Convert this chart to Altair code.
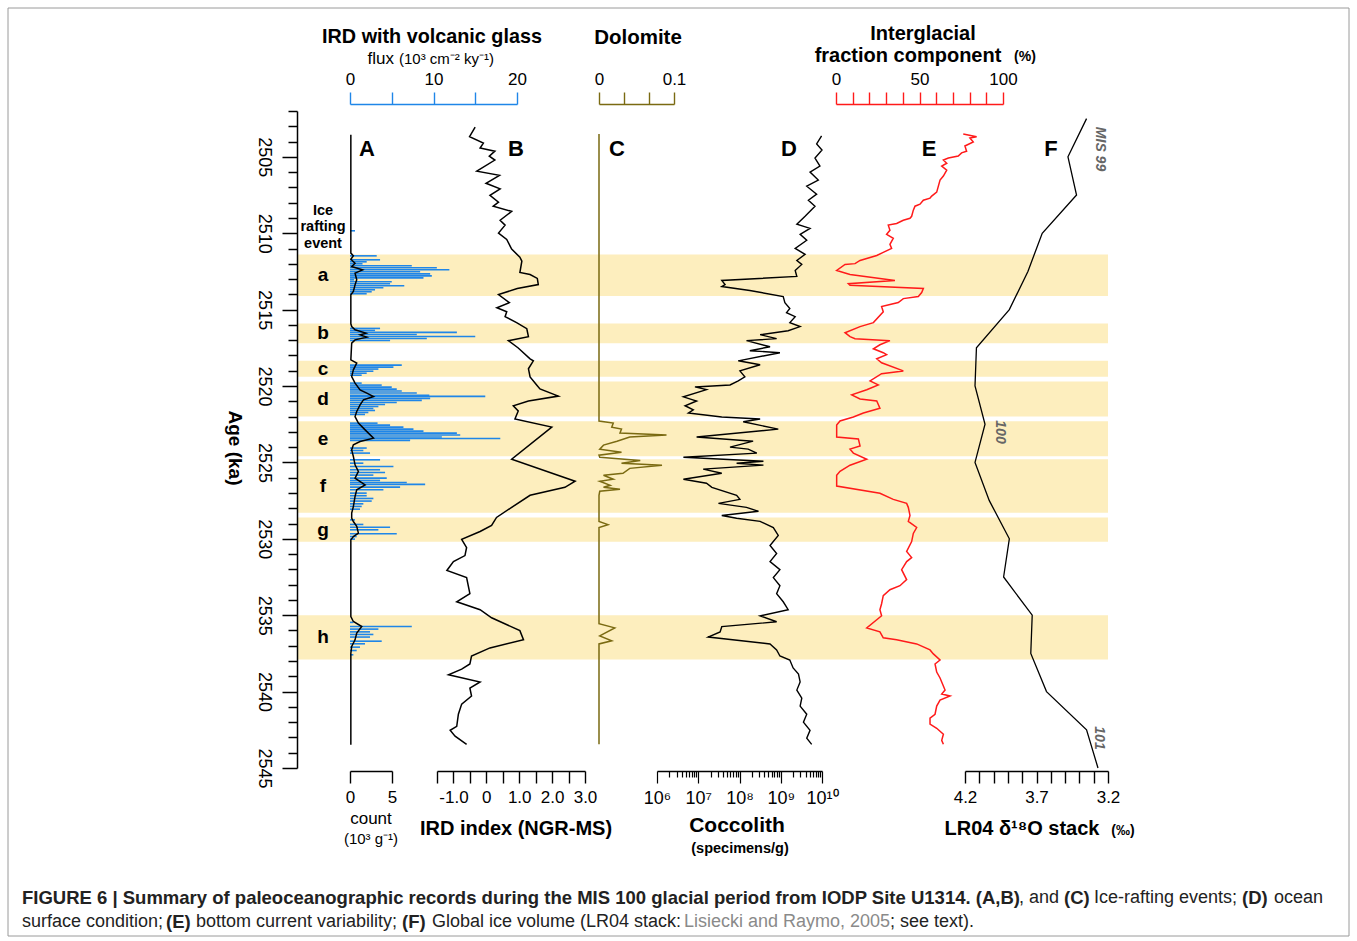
import altair as alt
import pandas as pd

FONT = "Liberation Sans"
BLUE = "#1f86e8"
OLIVE = "#7a6a12"
RED = "#ff1a1a"
BAND = "#fdeebe"

# ---------------- data ----------------
band_name = ["a", "b", "c", "d", "e", "f", "g", "h"]
band_start = [2511.4, 2515.9, 2518.35, 2519.7, 2522.3, 2524.8, 2528.6, 2535.0]
band_end = [2514.1, 2517.2, 2519.4, 2522.0, 2524.6, 2528.3, 2530.2, 2537.9]

# A: IRD with volcanic glass flux (10^3 cm-2 ky-1), horizontal bars
flux_age = [2509.84, 2511.48, 2511.74, 2511.87, 2512.00, 2512.13, 2512.26, 2512.39, 2512.52, 2512.66,
            2512.79, 2512.92, 2513.05, 2513.18, 2513.31, 2513.44, 2513.57, 2513.70, 2513.83, 2513.96,
            2516.23, 2516.36, 2516.49, 2516.63, 2516.76, 2516.89, 2517.02,
            2518.63, 2518.76, 2518.89, 2519.03, 2519.16, 2519.29,
            2519.81, 2519.94, 2520.07, 2520.20, 2520.33, 2520.46, 2520.60, 2520.68, 2520.81, 2520.94,
            2521.08, 2521.21, 2521.34, 2521.47, 2521.60, 2521.73, 2521.86,
            2522.43, 2522.56, 2522.69, 2522.82, 2522.95, 2523.08, 2523.21, 2523.34, 2523.43, 2523.56,
            2524.06, 2524.22, 2524.39, 2524.83, 2525.05,
            2525.27, 2525.48, 2525.66, 2525.83, 2526.03, 2526.18, 2526.31, 2526.44, 2526.62, 2526.79,
            2527.01, 2527.18, 2527.36, 2527.53, 2527.71, 2527.88, 2528.06,
            2528.76, 2529.06, 2529.24, 2529.41, 2529.67, 2529.85, 2530.02,
            2535.47, 2535.74, 2535.91, 2536.09, 2536.26, 2536.43, 2536.70, 2536.87, 2537.09, 2537.31, 2537.59]
flux_val = [0.6, 3.2, 3.6, 2.0, 1.5, 7.4, 10.4, 11.9, 8.4, 9.6,
            9.8, 8.8, 0.5, 5.0, 4.8, 6.5, 4.0, 3.0, 2.6, 2.0,
            3.6, 3.0, 12.8, 8.0, 15.0, 9.2, 4.8,
            6.2, 5.2, 3.4, 2.8, 2.0, 1.4,
            1.4, 3.8, 5.0, 5.6, 6.2, 8.0, 9.5, 16.2, 9.6, 8.6,
            5.6, 4.2, 3.4, 2.8, 3.0, 2.2, 1.8,
            3.3, 4.8, 6.4, 7.6, 8.8, 12.8, 13.2, 11.0, 18.0, 7.2,
            2.0, 1.6, 2.4, 3.6, 1.6,
            5.2, 3.6, 4.2, 2.8, 4.4, 3.6, 6.8, 9.0, 6.0, 4.0,
            2.0, 2.0, 2.8, 2.6, 1.6, 1.4, 1.2,
            0.6, 1.6, 4.8, 3.4, 5.6, 0.8, 0.6,
            0.4, 7.4, 3.4, 2.4, 2.8, 2.4, 3.8, 1.8, 1.2, 0.8, 0.4]

# A: IRD count (10^3 g-1), black line
count_age = [2503.56, 2511.30, 2511.48, 2511.70, 2511.96, 2512.18, 2512.40, 2512.61, 2513.05, 2513.38,
             2513.81, 2514.03, 2515.93, 2516.11, 2516.32, 2516.54, 2516.65, 2516.80, 2516.98, 2517.19,
             2518.29, 2518.50, 2518.94, 2519.38, 2519.81, 2520.25, 2520.47, 2520.69, 2520.90, 2521.23,
             2521.67, 2522.00, 2522.43, 2522.87, 2523.41, 2523.63, 2523.85, 2524.18, 2524.61, 2525.16,
             2525.59, 2526.03, 2526.47, 2526.79, 2527.23, 2527.89, 2528.32, 2528.65, 2528.87, 2529.19,
             2529.63, 2529.85, 2530.07, 2535.09, 2535.41, 2535.74, 2536.17, 2536.61, 2537.05, 2537.49,
             2543.48]
count_val = [0.1, 0.1, 0.4, 0.1, 0.6, 0.2, 1.5, 0.6, 0.8, 0.6,
             0.4, 0.1, 0.1, 0.2, 0.6, 1.9, 1.2, 2.0, 0.6, 0.2,
             0.1, 0.8, 0.4, 0.2, 0.6, 1.2, 2.0, 2.8, 1.6, 1.2,
             0.8, 0.6, 1.0, 1.8, 2.8, 1.2, 0.4, 0.2, 0.4, 0.6,
             1.0, 0.6, 1.8, 0.8, 0.6, 0.4, 0.2, 0.2, 0.4, 0.8,
             1.0, 0.4, 0.1, 0.1, 0.4, 1.4, 0.8, 0.6, 0.2, 0.1,
             0.1]

# B: IRD index (NGR-MS)
ird_age = [2503.05, 2503.68, 2504.10, 2504.42, 2504.63, 2504.95, 2505.21, 2505.94, 2506.21, 2506.73,
           2507.10, 2507.52, 2507.97, 2508.23, 2508.57, 2509.15, 2509.47, 2509.99, 2510.41, 2511.04,
           2511.57, 2511.83, 2512.57, 2512.70, 2512.96, 2513.36, 2513.62, 2514.01, 2514.54, 2514.88,
           2515.14, 2515.46, 2515.85, 2516.25, 2516.77, 2517.03, 2517.51, 2518.22, 2518.35, 2518.87,
           2519.40, 2519.93, 2520.19, 2520.66, 2520.98, 2521.29, 2521.63, 2522.16, 2522.69, 2524.79,
           2526.23, 2526.63, 2527.15, 2527.94, 2528.60, 2529.12, 2529.52, 2530.04, 2530.57, 2531.10,
           2531.49, 2532.07, 2532.54, 2533.59, 2534.12, 2534.64, 2535.17, 2536.01, 2536.61, 2537.14,
           2537.67, 2538.19, 2538.53, 2538.90, 2539.37, 2539.77, 2540.29, 2540.82, 2541.48, 2542.27,
           2542.53, 2542.92, 2543.45]
ird_val = [-0.34, -0.51, -0.09, -0.19, 0.26, 0.09, 0.26, -0.29, 0.40, -0.01,
           0.42, 0.11, 0.37, 0.21, 0.77, 0.42, 0.57, 0.37, 0.62, 0.77,
           1.02, 1.08, 1.02, 1.33, 1.55, 1.58, 0.94, 0.37, 0.70, 0.32,
           0.62, 0.57, 0.92, 1.23, 1.28, 0.67, 0.97, 1.33, 1.43, 1.28,
           1.33, 1.53, 1.63, 2.19, 1.28, 0.82, 0.97, 0.87, 1.99, 0.77,
           2.70, 2.39, 1.33, 0.77, 0.31, 0.16, -0.19, -0.75, -0.60, -0.65,
           -1.00, -1.20, -0.60, -0.50, -0.90, -0.19, 0.16, 1.02, 1.13, 0.11,
           -0.45, -0.50, -0.75, -1.15, -0.19, -0.50, -0.45, -0.75, -0.85, -0.90,
           -1.10, -0.95, -0.60]

# C: Dolomite
dol_age = [2503.50, 2522.29, 2522.42, 2522.69, 2522.82, 2523.08, 2523.21, 2523.34, 2523.61, 2523.87,
           2524.13, 2524.34, 2524.53, 2524.66, 2524.87, 2525.05, 2525.18, 2525.39, 2525.71, 2525.84,
           2526.10, 2526.23, 2526.50, 2526.63, 2526.76, 2526.89, 2527.15, 2528.86, 2529.07, 2529.26,
           2535.56, 2535.83, 2536.35, 2536.67, 2536.88, 2543.45]
dol_val = [0.0, 0.0, 0.019, 0.017, 0.030, 0.028, 0.090, 0.041, 0.024, 0.006,
           0.001, 0.030, 0.0, 0.001, 0.055, 0.030, 0.084, 0.041, 0.032, 0.006,
           0.019, 0.001, 0.015, 0.006, 0.028, 0.001, 0.0, 0.0, 0.012, 0.0,
           0.0, 0.021, 0.001, 0.017, 0.0, 0.0]

# D: Coccolith abundance, log10(specimens/g)
cocco_age = [2503.63, 2504.16, 2504.55, 2505.08, 2505.60, 2506.00, 2506.52, 2506.92, 2507.44, 2507.84,
             2508.23, 2508.89, 2509.41, 2509.68, 2510.07, 2510.46, 2510.99, 2511.38, 2511.78, 2512.04,
             2512.44, 2512.83, 2513.09, 2513.36, 2513.49, 2513.75, 2514.14, 2514.54, 2514.93, 2515.20,
             2515.46, 2515.85, 2516.11, 2516.38, 2516.64, 2516.90, 2517.03, 2517.43, 2517.69, 2517.82,
             2518.35, 2518.61, 2519.01, 2519.40, 2519.66, 2519.93, 2520.06, 2520.24, 2520.71, 2520.98,
             2521.29, 2521.56, 2521.77, 2522.03, 2522.16, 2522.34, 2522.82, 2523.34, 2523.61, 2524.00,
             2524.13, 2524.39, 2524.66, 2524.92, 2525.05, 2525.18, 2525.44, 2525.71, 2526.10, 2526.36,
             2526.63, 2527.15, 2527.42, 2527.68, 2527.94, 2528.20, 2528.47, 2528.65, 2528.86, 2529.26,
             2529.78, 2530.44, 2530.96, 2531.49, 2532.02, 2532.54, 2533.07, 2533.59, 2534.12, 2534.64,
             2535.04, 2535.43, 2535.75, 2536.09, 2536.43, 2536.88, 2537.27, 2537.67, 2537.93, 2538.45,
             2538.85, 2539.37, 2539.90, 2540.42, 2540.95, 2541.48, 2542.00, 2542.53, 2543.05, 2543.45]
cocco_log = [9.99, 9.87, 10.0, 9.83, 9.95, 9.71, 9.91, 9.63, 9.87, 9.67,
             9.83, 9.59, 9.39, 9.71, 9.47, 9.63, 9.35, 9.59, 9.39, 9.51,
             9.35, 9.39, 7.57, 7.65, 7.57, 8.25, 9.06, 9.10, 9.22, 9.14,
             9.35, 9.22, 9.47, 9.18, 8.50, 8.90, 8.17, 8.74, 8.25, 8.98,
             7.97, 8.50, 8.01, 8.13, 7.97, 7.77, 6.92, 7.20, 6.64, 6.96,
             6.68, 6.88, 6.76, 7.57, 8.50, 8.09, 8.94, 6.96, 8.33, 7.77,
             8.21, 8.42, 6.64, 8.58, 7.93, 8.58, 7.12, 7.57, 6.64, 7.20,
             7.33, 7.93, 8.01, 7.49, 8.17, 8.46, 7.57, 7.93, 8.50, 8.82,
             8.94, 8.74, 8.90, 8.74, 8.98, 8.82, 8.98, 8.90, 9.06, 9.18,
             8.50, 8.90, 7.57, 7.53, 7.24, 8.74, 8.90, 8.98, 9.22, 9.30,
             9.43, 9.47, 9.39, 9.51, 9.47, 9.63, 9.55, 9.71, 9.63, 9.75]

# E: Interglacial fraction component (%)
igl_age = [2503.50, 2503.68, 2503.76, 2504.03, 2504.29, 2504.63, 2504.74, 2504.95, 2505.08, 2505.21,
           2505.42, 2505.60, 2505.87, 2506.26, 2506.52, 2506.92, 2507.31, 2507.57, 2507.70, 2507.84,
           2508.10, 2508.23, 2508.49, 2508.89, 2509.02, 2509.15, 2509.36, 2509.47, 2509.81, 2510.07,
           2510.33, 2510.73, 2510.99, 2511.25, 2511.46, 2511.78, 2511.99, 2512.04, 2512.44, 2512.57,
           2512.70, 2513.09, 2513.30, 2513.41, 2513.62, 2513.88, 2514.14, 2514.28, 2514.54, 2514.80,
           2515.14, 2515.85, 2516.11, 2516.51, 2516.77, 2516.90, 2517.03, 2517.30, 2517.56, 2517.82,
           2517.95, 2518.22, 2518.48, 2519.01, 2519.19, 2519.66, 2519.93, 2520.24, 2520.58, 2520.85,
           2520.98, 2521.45, 2521.77, 2522.03, 2522.29, 2522.55, 2523.34, 2523.47, 2523.92, 2524.13,
           2524.39, 2524.79, 2525.18, 2525.58, 2525.84, 2526.55, 2527.02, 2527.42, 2527.68, 2527.94,
           2528.47, 2528.86, 2529.26, 2529.65, 2530.18, 2530.83, 2531.23, 2531.49, 2532.02, 2532.67,
           2533.07, 2533.33, 2533.72, 2534.25, 2534.64, 2535.04, 2535.30, 2535.83, 2536.09, 2536.48,
           2536.61, 2536.88, 2537.27, 2537.53, 2537.93, 2538.19, 2538.72, 2539.11, 2539.90, 2540.16,
           2540.29, 2540.56, 2540.95, 2541.48, 2541.74, 2542.13, 2542.40, 2542.79, 2543.19, 2543.45]
igl_val = [76.2, 84.2, 80.2, 82.2, 77.2, 78.2, 75.2, 73.2, 67.3, 64.3,
           66.3, 63.3, 66.3, 64.3, 62.3, 61.3, 60.3, 57.3, 56.3, 52.3,
           50.3, 47.3, 46.3, 45.3, 44.3, 40.3, 36.3, 31.3, 32.3, 30.3,
           34.3, 32.3, 33.3, 28.3, 24.4, 14.4, 11.4, 5.4, 0.4, 4.4,
           8.4, 35.3, 7.4, 8.4, 52.3, 51.3, 49.3, 40.3, 37.3, 27.3,
           28.3, 22.4, 14.4, 5.4, 8.4, 11.4, 32.3, 26.3, 22.4, 28.3,
           30.3, 24.4, 27.3, 40.3, 27.3, 20.4, 25.3, 18.4, 9.4, 14.4,
           24.4, 26.3, 16.4, 10.4, 2.4, 0.4, 0.4, 13.4, 14.4, 8.4,
           10.4, 18.4, 8.4, 2.4, 0.4, 0.4, 26.3, 34.3, 42.3, 43.3,
           44.3, 43.3, 48.3, 46.3, 45.3, 42.3, 45.3, 42.3, 39.3, 42.3,
           38.3, 32.3, 28.3, 27.3, 26.3, 27.3, 24.4, 18.4, 26.3, 28.3,
           36.3, 48.3, 56.3, 58.3, 62.3, 59.3, 60.3, 62.3, 65.3, 63.3,
           68.3, 62.3, 60.3, 59.3, 56.3, 56.3, 60.3, 64.3, 63.3, 64.3]

# F: LR04 benthic d18O stack (per mil)
lr04_age = [2502.5, 2505.0, 2507.5, 2510.0, 2512.5, 2515.0, 2517.5, 2520.0, 2522.5,
            2525.0, 2527.5, 2530.0, 2532.5, 2535.0, 2537.5, 2540.0, 2542.5, 2545.0]
lr04_val = [3.35, 3.48, 3.42, 3.66, 3.76, 3.89, 4.12, 4.13, 4.06,
            4.13, 4.03, 3.89, 3.93, 3.73, 3.74, 3.63, 3.35, 3.27]

# axis tick values
age_ticks = list(range(2502, 2546))
flux_ticks = [0, 5, 10, 15, 20]
count_ticks = [0, 5]
ird_ticks = [-1.5, -1.0, -0.5, 0.0, 0.5, 1.0, 1.5, 2.0, 2.5, 3.0]
dol_ticks = [0.0, 0.1 / 3, 0.2 / 3, 0.1]
cocco_ticks = [m * 10 ** n for n in range(6, 10) for m in range(1, 10)] + [10 ** 10]
igl_ticks = list(range(0, 101, 10))
lr04_ticks = [3.2, 3.3, 3.4, 3.5, 3.6, 3.7, 3.8, 3.9, 4.0, 4.1, 4.2]

# ---------------- frames ----------------
bands = pd.DataFrame({"name": band_name, "age": band_start, "age_end": band_end})
flux_df = pd.DataFrame({"age": flux_age, "flux": flux_val})
count_df = pd.DataFrame({"age": count_age, "count": count_val})
ird_df = pd.DataFrame({"age": ird_age, "ird": ird_val})
dol_df = pd.DataFrame({"age": dol_age, "dol": dol_val})
cocco_df = pd.DataFrame({"age": cocco_age, "lv": cocco_log})
igl_df = pd.DataFrame({"age": igl_age, "igl": igl_val})
lr04_df = pd.DataFrame({"age": lr04_age, "d18o": lr04_val})
ONE = pd.DataFrame({"k": [0]})


def yscale():
    return alt.Scale(domain=[2502, 2545], range=[111, 768], nice=False, zero=False)


def yq(field="age"):
    return alt.Y(f"{field}:Q", scale=yscale(), axis=None)


def xaxis(orient, offset, values, label_expr, color="black", tick=12, pad=4, fmt=None):
    kw = dict(orient=orient, offset=offset, values=values, labelExpr=label_expr, title=None,
              grid=False, tickSize=tick, tickColor=color, domainColor=color, tickWidth=1.4,
              domainWidth=1.4, labelColor="black", labelFontSize=17, labelFont=FONT,
              labelPadding=pad, labelFlush=False, labelOverlap=False, labelBound=False, zindex=2)
    if fmt:
        kw["format"] = fmt
    return alt.Axis(**kw)


def txt(text, x, y, size=17, weight="normal", align="center", baseline="middle", angle=0,
        color="black", style="normal"):
    return alt.Chart(ONE).mark_text(
        text=text, fontSize=size, fontWeight=weight, align=align, baseline=baseline,
        angle=angle, color=color, fontStyle=style, font=FONT,
    ).encode(x=alt.value(x), y=alt.value(y))


layers = []

# frame (outline only)
layers.append(alt.Chart(ONE).mark_rect(filled=False, stroke="#9a9a9a", strokeWidth=1).encode(
    x=alt.value(8), x2=alt.value(1349), y=alt.value(8), y2=alt.value(936)))

# bands
layers.append(alt.Chart(bands).mark_rect(color=BAND).encode(
    x=alt.value(297), x2=alt.value(1108), y=yq(), y2="age_end:Q"))

# age axis (drawn by an invisible copy of the band layer)
y_axis = alt.Axis(
    orient="left", offset=-297, values=age_ticks, format="d",
    labelExpr="datum.value % 5 == 0 ? datum.label : ''",
    tickSize={"condition": {"test": "datum.value % 5 == 0", "value": 15}, "value": 9},
    labelAngle=90, labelAlign="center", labelBaseline="top", labelPadding=10,
    labelFontSize=18, labelFont=FONT, labelColor="black", tickColor="black",
    domainColor="black", tickWidth=1.5, domainWidth=1.5, title=None, grid=False,
    labelOverlap=False, labelFlush=False, labelBound=False, zindex=2)
layers.append(alt.Chart(bands).mark_tick(opacity=0).encode(
    x=alt.value(297), y=alt.Y("age:Q", scale=yscale(), axis=y_axis)))

# band letters
layers.append(alt.Chart(bands).transform_calculate(mid="(datum.age + datum.age_end) / 2").mark_text(
    fontSize=19, fontWeight="bold", font=FONT, color="black").encode(
    x=alt.value(323), y=yq("mid"), text="name:N"))

# A: flux bars
layers.append(alt.Chart(flux_df).transform_calculate(zero="0").mark_rule(
    color=BLUE, strokeWidth=1.6).encode(
    x=alt.X("zero:Q", scale=alt.Scale(domain=[0, 20], range=[350, 517], nice=False, zero=False),
            axis=xaxis("top", -104, flux_ticks, "datum.value % 10 == 0 ? datum.label : ''", BLUE)),
    x2="flux:Q", y=yq()))

# A: count line
layers.append(alt.Chart(count_df).mark_line(color="black", strokeWidth=1.5).encode(
    x=alt.X("count:Q", scale=alt.Scale(domain=[0, 5], range=[350, 392], nice=False, zero=False),
            axis=xaxis("bottom", -170, count_ticks, "datum.label", tick=12, pad=6)),
    y=yq(), order="age:Q"))

# B: IRD index
layers.append(alt.Chart(ird_df).mark_line(color="black", strokeWidth=1.5).encode(
    x=alt.X("ird:Q", scale=alt.Scale(domain=[-1.5, 3.0], range=[437, 585], nice=False, zero=False),
            axis=xaxis("bottom", -170, ird_ticks,
                       "datum.value == 0 ? '0' : (datum.value % 1 == 0 ? (datum.value < 0 ? '-1.0' : format(datum.value, '.1f')) : '')",
                       tick=12, pad=6)),
    y=yq(), order="age:Q"))

# C: dolomite
layers.append(alt.Chart(dol_df).mark_line(color=OLIVE, strokeWidth=1.5).encode(
    x=alt.X("dol:Q", scale=alt.Scale(domain=[0, 0.1], range=[599, 674], nice=False, zero=False),
            axis=xaxis("top", -104, dol_ticks,
                       "datum.value == 0 ? '0' : (datum.value > 0.09 ? '0.1' : '')", OLIVE)),
    y=yq(), order="age:Q"))

# D: coccolith (log scale)
major_test = " || ".join(f"datum.value == {10 ** n}" for n in range(6, 11))
sup = {6: "⁶", 7: "⁷", 8: "⁸", 9: "⁹", 10: "¹⁰"}
cocco_label = " : ".join(f"datum.value == {10 ** n} ? '10{sup[n]}'" for n in range(6, 11)) + " : ''"
cocco_axis = alt.Axis(
    orient="bottom", offset=-170, values=cocco_ticks, labelExpr=cocco_label, title=None, grid=False,
    tickSize={"condition": {"test": major_test, "value": 12}, "value": 6},
    tickColor="black", domainColor="black", tickWidth=1.2, domainWidth=1.4, labelColor="black",
    labelFontSize=18, labelFont=FONT, labelPadding=6, labelFlush=False, labelOverlap=False,
    labelBound=False, zindex=2)
layers.append(alt.Chart(cocco_df).transform_calculate(spec="pow(10, datum.lv)").mark_line(
    color="black", strokeWidth=1.4).encode(
    x=alt.X("spec:Q", scale=alt.Scale(type="log", domain=[1e6, 1e10], range=[657, 822], nice=False),
            axis=cocco_axis),
    y=yq(), order="age:Q"))

# E: interglacial fraction
layers.append(alt.Chart(igl_df).mark_line(color=RED, strokeWidth=1.5).encode(
    x=alt.X("igl:Q", scale=alt.Scale(domain=[0, 100], range=[836, 1003], nice=False, zero=False),
            axis=xaxis("top", -104, igl_ticks, "datum.value % 50 == 0 ? datum.label : ''", RED)),
    y=yq(), order="age:Q"))

# F: LR04
layers.append(alt.Chart(lr04_df).mark_line(color="black", strokeWidth=1.3).encode(
    x=alt.X("d18o:Q", scale=alt.Scale(domain=[3.2, 4.2], range=[965, 1108], reverse=True,
                                      nice=False, zero=False),
            axis=xaxis("bottom", -170, lr04_ticks,
                       "abs(datum.value - 4.2) < 0.01 || abs(datum.value - 3.7) < 0.01 || abs(datum.value - 3.2) < 0.01 ? format(datum.value, '.1f') : ''",
                       tick=12, pad=6)),
    y=yq(), order="age:Q"))

# ---------------- annotations ----------------
CAP = 18
CAPB = 18.5
INK = "#222222"
ann = [
    # top titles
    txt("IRD with volcanic glass", 432, 37, size=19.8, weight="bold"),
    txt("flux", 394, 59, size=17, align="right"),
    txt("(10³ cm⁻² ky⁻¹)", 399, 59, size=15, align="left"),
    txt("Dolomite", 638, 38, size=20.5, weight="bold"),
    txt("Interglacial", 923, 34, size=20, weight="bold"),
    txt("fraction component", 908, 56, size=20, weight="bold"),
    txt("(%)", 1025, 57, size=14, weight="bold"),
    # panel letters
    txt("A", 367, 149, size=22, weight="bold"),
    txt("B", 516, 149, size=22, weight="bold"),
    txt("C", 617, 149, size=22, weight="bold"),
    txt("D", 789, 149, size=22, weight="bold"),
    txt("E", 929, 149, size=22, weight="bold"),
    txt("F", 1051, 149, size=22, weight="bold"),
    # ice rafting event
    txt("Ice", 323, 211, size=14.5, weight="bold"),
    txt("rafting", 323, 227, size=14.5, weight="bold"),
    txt("event", 323, 244, size=14.5, weight="bold"),
    # y title
    txt("Age (ka)", 235, 448, size=19, weight="bold", angle=90),
    # F annotations
    txt("MIS 99", 1100, 149, size=14, weight="bold", style="italic", angle=90, color="#666666"),
    txt("100", 1000, 432, size=14, weight="bold", style="italic", angle=90, color="#666666"),
    txt("101", 1099, 738, size=14, weight="bold", style="italic", angle=90, color="#666666"),
    # bottom titles
    txt("count", 371, 819, size=17),
    txt("(10³ g⁻¹)", 371, 839, size=15),
    txt("IRD index (NGR-MS)", 516, 829, size=20, weight="bold"),
    txt("Coccolith", 737, 826, size=21, weight="bold"),
    txt("(specimens/g)", 740, 849, size=14.5, weight="bold"),
    txt("LR04 δ¹⁸O stack", 1022, 829, size=20, weight="bold"),
    txt("(‰)", 1123, 831, size=14, weight="bold"),
    # caption line 1
    txt("FIGURE 6 | Summary of paleoceanographic records during the MIS 100 glacial period from IODP Site U1314. (A,B)",
        22, 898, size=CAPB, weight="bold", align="left", color=INK),
    txt(", and", 1019, 898, size=CAP, align="left", color=INK),
    txt("(C)", 1064, 898, size=CAPB, weight="bold", align="left", color=INK),
    txt("Ice-rafting events;", 1094, 898, size=CAP, align="left", color=INK),
    txt("(D)", 1242, 898, size=CAPB, weight="bold", align="left", color=INK),
    txt("ocean", 1274, 898, size=CAP, align="left", color=INK),
    # caption line 2
    txt("surface condition;", 22, 922, size=CAP, align="left", color=INK),
    txt("(E)", 166, 922, size=CAPB, weight="bold", align="left", color=INK),
    txt("bottom current variability;", 196, 922, size=CAP, align="left", color=INK),
    txt("(F)", 402, 922, size=CAPB, weight="bold", align="left", color=INK),
    txt("Global ice volume (LR04 stack:", 432, 922, size=CAP, align="left", color=INK),
    txt("Lisiecki and Raymo, 2005", 684, 922, size=CAP, align="left", color="#8a8a8a"),
    txt("; see text).", 890, 922, size=CAP, align="left", color=INK),
]
layers.extend(ann)

chart = alt.layer(*layers).resolve_scale(x="independent", y="independent").properties(
    width=1357, height=941, autosize="none", padding=0, background="white"
).configure_view(stroke=None).configure_axis(labelFont=FONT, titleFont=FONT)

chart.save("out.html", embed_options={"renderer": "svg", "actions": False})
